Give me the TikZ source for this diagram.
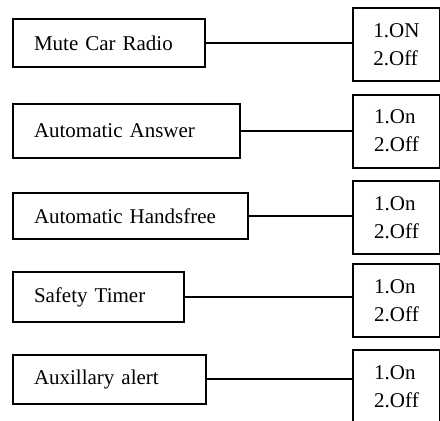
\documentclass[tikz,border=0pt]{standalone}
\usepackage{fontspec}
\setmainfont{Liberation Serif}
\usepackage{tikz}
\usetikzlibrary{positioning}

\begin{document}
\begin{tikzpicture}[
    menu/.style={draw, line width=1.5pt, anchor=west, align=left, inner xsep=15.75pt, inner ysep=0pt,
        font=\fontsize{15.75pt}{21pt}\selectfont},
    choice/.style={draw, line width=1.5pt, anchor=west, align=left, inner sep=0pt,
        minimum width=65.25pt, minimum height=54.75pt, font=\fontsize{15.75pt}{21pt}\selectfont},
    wire/.style={line width=1.5pt}]
    \useasboundingbox (0pt,0pt) rectangle (330pt,-315.75pt);
    \clip (0pt,0pt) rectangle (330pt,-315.75pt);

    \node[menu, text width=112.5pt, minimum height=36pt] (mute) at (9pt, -32.25pt) {Mute Car Radio};
    \node[menu, text width=138.75pt, minimum height=40.5pt] (answer) at (9pt, -98.25pt) {Automatic Answer};
    \node[menu, text width=144.75pt, minimum height=34.5pt] (handsfree) at (9pt, -162pt) {Automatic Handsfree};
    \node[menu, text width=96.75pt, minimum height=37.5pt] (timer) at (9pt, -222.75pt) {Safety Timer};
    \node[menu, text width=113.25pt, minimum height=36.75pt] (alert) at (9pt, -284.6pt) {Auxillary alert};

    \node[choice] (mute-opt) at (264pt, -33.2pt) {1.ON\\2.Off};
    \node[choice] (answer-opt) at (264pt, -98.25pt) {1.On\\2.Off};
    \node[choice] (handsfree-opt) at (264pt, -163.1pt) {1.On\\2.Off};
    \node[choice] (timer-opt) at (264pt, -225.4pt) {1.On\\2.Off};
    \node[choice] (alert-opt) at (264pt, -289.9pt) {1.On\\2.Off};

    \draw[wire] (mute) -- (mute -| mute-opt.west);
    \draw[wire] (answer) -- (answer -| answer-opt.west);
    \draw[wire] (handsfree) -- (handsfree -| handsfree-opt.west);
    \draw[wire] (timer) -- (timer -| timer-opt.west);
    \draw[wire] (alert) -- (alert -| alert-opt.west);
\end{tikzpicture}
\end{document}
